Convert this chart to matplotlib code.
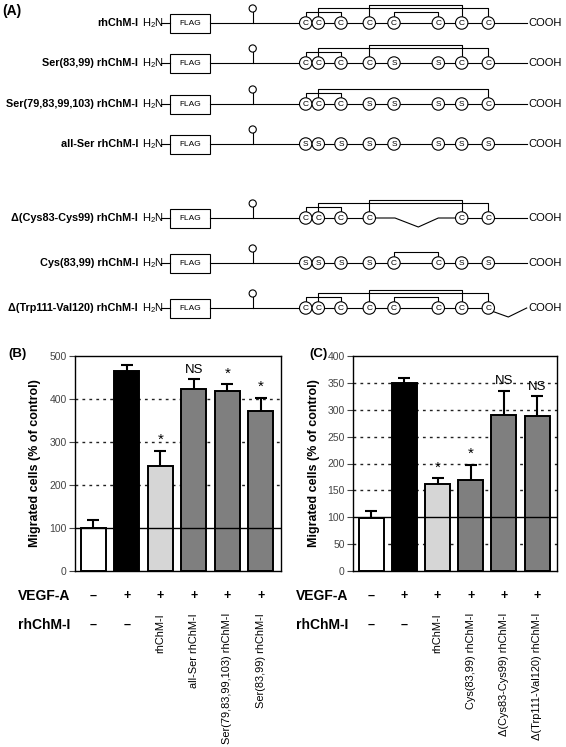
import numpy as np
import matplotlib
matplotlib.use("Agg")
import matplotlib.pyplot as plt
from matplotlib.patches import Circle, Rectangle
from matplotlib.transforms import blended_transform_factory

plt.rcParams['font.family'] = ['Liberation Sans', 'DejaVu Sans']
plt.rcParams['mathtext.fontset'] = 'custom'
plt.rcParams['mathtext.rm'] = 'Liberation Sans'

# ---- panel A: constructs (residue 8 cysteine positions, C / S / '-' deleted)
construct_names = ['rhChM-I', 'Ser(83,99) rhChM-I', 'Ser(79,83,99,103) rhChM-I',
                   'all-Ser rhChM-I', 'Δ(Cys83-Cys99) rhChM-I', 'Cys(83,99) rhChM-I',
                   'Δ(Trp111-Val120) rhChM-I']
construct_residues = ['CCCCCCCC', 'CCCCSSCC', 'CCCSSSSC', 'SSSSSSSS',
                      'CCCC--CC', 'SSSSCCSS', 'CCCCCCCC']
construct_bonds = [[(0, 2), (1, 7), (3, 6), (4, 5)],
                   [(0, 2), (1, 7), (3, 6)],
                   [(0, 2), (1, 7)],
                   [],
                   [(0, 2), (1, 7), (3, 6)],
                   [(4, 5)],
                   [(0, 2), (1, 7), (3, 6), (4, 5)]]
construct_tail_deleted = [False, False, False, False, False, False, True]

# ---- panel B
b_treatments = ['rhChM-I', 'all-Ser rhChM-I', 'Ser(79,83,99,103) rhChM-I', 'Ser(83,99) rhChM-I']
b_migration = [100, 466, 245, 424, 418, 373]
b_sem = [18, 13, 35, 22, 17, 30]
b_marks = ['', '', '*', 'NS', '*', '*']

# ---- panel C
c_treatments = ['rhChM-I', 'Cys(83,99) rhChM-I', 'Δ(Cys83-Cys99) rhChM-I', 'Δ(Trp111-Val120) rhChM-I']
c_migration = [98, 350, 162, 170, 290, 288]
c_sem = [13, 10, 11, 28, 45, 37]
c_marks = ['', '', '*', '*', 'NS', 'NS']

vegf_signs = ['–', '+', '+', '+', '+', '+']
rh_signs = ['–', '–']

bar_colors = ['white', 'black', '#d6d6d6', '#7f7f7f', '#7f7f7f', '#7f7f7f']

W, H = 566, 747
fig = plt.figure(figsize=(W / 100, H / 100), dpi=100)


def px_axes(l, t, r, b):
    return fig.add_axes([l / W, 1 - b / H, (r - l) / W, (b - t) / H])


# ================= panel A =================
axA = px_axes(0, 0, W, 340)
axA.set_xlim(0, W)
axA.set_ylim(340, 0)
axA.axis('off')

row_y = [23, 63, 104, 144, 218, 263, 308]
cys_x = [305.7, 318.3, 341, 369.3, 394, 438.3, 461.7, 488.3]
bond_level = {(0, 2): 11.5, (1, 7): 15, (3, 6): 18.5, (4, 5): 11.5}
r = 6.2
lw = 0.8

axA.text(2, 11, '(A)', fontsize=10, fontweight='bold', va='center', ha='left')

for name, res, bonds, tail, y in zip(construct_names, construct_residues, construct_bonds,
                                     construct_tail_deleted, row_y):
    axA.text(138, y, name, fontsize=7.8, fontweight='bold', ha='right', va='center')
    axA.text(142, y, r'H$_{2}$N', fontsize=8, ha='left', va='center')
    axA.plot([161, 170], [y, y], color='black', lw=lw)
    axA.add_patch(Rectangle((170, y - 9.5), 40, 19, fill=False, ec='black', lw=lw))
    axA.text(190, y + 0.5, 'FLAG', fontsize=6, ha='center', va='center')
    # lollipop
    axA.plot([252.7, 252.7], [y, y - 11], color='black', lw=lw)
    axA.add_patch(Circle((252.7, y - 14.5), 3.6, fc='white', ec='black', lw=lw))
    # backbone
    if '-' in res:
        axA.plot([210, cys_x[3]], [y, y], color='black', lw=lw)
        axA.plot([cys_x[3], 395, 418.3, 438.3, cys_x[6]], [y, y, y + 9, y, y],
                 color='black', lw=lw)
        axA.plot([cys_x[6], cys_x[7]], [y, y], color='black', lw=lw)
    else:
        axA.plot([210, cys_x[7]], [y, y], color='black', lw=lw)
    if tail:
        axA.plot([cys_x[7], 492.7, 508.3, 526.7], [y, y + 3.4, y + 9, y], color='black', lw=lw)
    else:
        axA.plot([cys_x[7], 527], [y, y], color='black', lw=lw)
    axA.text(528, y, 'COOH', fontsize=8, ha='left', va='center')
    # disulfide bonds
    for i, j in bonds:
        lv = bond_level[(i, j)]
        axA.plot([cys_x[i], cys_x[i], cys_x[j], cys_x[j]], [y - r, y - lv, y - lv, y - r],
                 color='black', lw=lw)
    for k, aa in enumerate(res):
        if aa == '-':
            continue
        axA.add_patch(Circle((cys_x[k], y), r, fc='white', ec='black', lw=lw, zorder=3))
        axA.text(cys_x[k], y + 0.3, aa, fontsize=6, ha='center', va='center', zorder=4)


# ================= panels B and C =================
def bar_panel(ax, values, sem, marks, treatments, ymax, step, grid_levels, letter, letter_x):
    x = np.arange(len(values))
    ax.bar(x, values, width=0.75, color=bar_colors, edgecolor='black', linewidth=1.4, zorder=2)
    eb = ax.errorbar(x, values, yerr=[np.zeros(len(sem)), sem], fmt='none', ecolor='black',
                     elinewidth=1.5, capsize=4.5, capthick=1.5, zorder=3)
    eb[1][0].set_visible(False)
    for g in grid_levels:
        ax.axhline(g, color='#222222', lw=1.0, ls=(0, (2, 3)), zorder=1)
    ax.axhline(100, color='black', lw=1.0, zorder=4)
    for xi, v, e, m in zip(x, values, sem, marks):
        if m:
            ax.annotate(m, (xi, v + e), xytext=(0, 2.5), textcoords='offset points',
                        ha='center', va='bottom', fontsize=11 if m == '*' else 9.5)
    ax.set_xlim(-0.55, 5.6)
    ax.set_ylim(0, ymax)
    ax.set_yticks(np.arange(0, ymax + 1, step))
    ax.set_xticks([])
    ax.tick_params(axis='y', length=4, width=0.8, color='#444444', labelcolor='#444444',
                   labelsize=7.5, pad=2)
    for s in ax.spines.values():
        s.set_linewidth(1.0)
    ax.set_ylabel('Migrated cells (% of control)', fontsize=9, fontweight='bold')
    ax.yaxis.set_label_coords(-0.163, 0.5)

    trans = blended_transform_factory(ax.transData, fig.transFigure)
    left = ax.get_position().x0 * W
    fig.text(letter_x / W, 1 - 354 / H, letter, fontsize=9.5, fontweight='bold',
             ha='left', va='center')
    fig.text((left - 57) / W, 1 - 596 / H, 'VEGF-A', fontsize=10, fontweight='bold',
             ha='left', va='center')
    fig.text((left - 57) / W, 1 - 625 / H, 'rhChM-I', fontsize=10, fontweight='bold',
             ha='left', va='center')
    for xi, s in zip(x, vegf_signs):
        ax.text(xi, 1 - 596 / H, s, transform=trans, ha='center', va='center',
                fontsize=9, fontweight='bold')
    for xi, s in zip(x[:2], rh_signs):
        ax.text(xi, 1 - 625 / H, s, transform=trans, ha='center', va='center',
                fontsize=9, fontweight='bold')
    for xi, t in zip(x[2:], treatments):
        ax.text(xi, 1 - 613 / H, t, transform=trans, rotation=90, ha='center', va='top',
                fontsize=7.9)


axB = px_axes(75, 356, 281, 571)
bar_panel(axB, b_migration, b_sem, b_marks, b_treatments, 500, 100, [200, 300, 400], '(B)', 8)

axC = px_axes(353, 356, 557, 571)
bar_panel(axC, c_migration, c_sem, c_marks, c_treatments, 400, 50,
          [50, 150, 200, 250, 300, 350], '(C)', 309)

fig.savefig('out.png', dpi=100)
